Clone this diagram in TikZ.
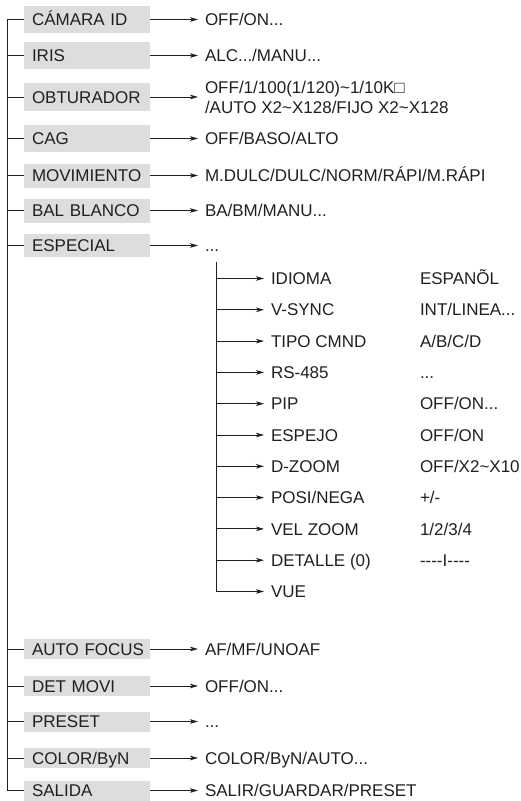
\documentclass[tikz,border=0pt]{standalone}
\usepackage{fontspec}
\setmainfont{Liberation Sans}
\usetikzlibrary{arrows.meta}
\definecolor{boxgray}{RGB}{221,221,221}
\definecolor{ink}{RGB}{35,31,32}
\newcommand\tld{\textasciitilde}
\newcommand\hyk{-\kern0pt}
\begin{document}
\begin{tikzpicture}[x=1pt,y=-1pt,
  every node/.style={font=\fontsize{17}{20}\selectfont, text=ink, outer sep=0pt},
  menubox/.style={fill=boxgray, anchor=west, text width=110pt, inner xsep=8pt, inner ysep=0pt, align=left, text height=12.2pt, text depth=0pt},
  val/.style={anchor=west, inner xsep=7pt, inner ysep=0pt, text height=12.2pt, text depth=0pt},
  branch/.style={line width=0.9pt, draw=ink},
  spine/.style={line width=1.3pt, draw=ink, line cap=rect},
  subspine/.style={line width=1pt, draw=ink, line cap=rect},
  arr/.style={line width=0.9pt, draw=ink, -{Stealth[length=8pt,width=4.6pt,inset=2.2pt]}}
]
\useasboundingbox (0,0) rectangle (521,801);

% main menu boxes
\node[menubox, minimum height=27pt] (cam) at (24,19.5) {\mbox{CÁMARA ID}};
\node[menubox, minimum height=27pt] (iris) at (24,55.5) {\mbox{IRIS}};
\node[menubox, minimum height=28pt] (obt) at (24,97) {\mbox{OBTURADOR}};
\node[menubox, minimum height=27pt] (cag) at (24,138.5) {\mbox{CAG}};
\node[menubox, minimum height=24pt] (mov) at (24,175.5) {\mbox{MOVIMIENTO}};
\node[menubox, minimum height=24pt] (bal) at (24,210.5) {\mbox{BAL BLANCO}};
\node[menubox, minimum height=23pt] (esp) at (24,245.5) {\mbox{ESPECIAL}};
\node[menubox, minimum height=20pt] (af) at (24,649) {\mbox{AUTO FOCUS}};
\node[menubox, minimum height=20pt] (det) at (24,686) {\mbox{DET MOVI}};
\node[menubox, minimum height=20pt] (pre) at (24,721.5) {\mbox{PRESET}};
\node[menubox, minimum height=20pt] (col) at (24,758) {\mbox{COLOR/ByN}};
\node[menubox, minimum height=20pt] (sal) at (24,790.5) {\mbox{SALIDA}};

% values
\node[val] (camv) at (198,19.5) {OFF/ON...};
\node[val] (irisv) at (198,55.5) {ALC.../MANU...};
\node[anchor=west, inner xsep=7pt, inner ysep=0pt, align=left] (obtv) at (198,97) {OFF/1/100(1/120)\tld1/10K□\\/AUTO X2\tld X128/FIJO X2\tld X128};
\node[val] (cagv) at (198,138.5) {OFF/BASO/ALTO};
\node[val] (movv) at (198,175.5) {M.DULC/DULC/NORM/RÁPI/M.RÁPI};
\node[val] (balv) at (198,210.5) {BA/BM/MANU...};
\node[val] (espv) at (198,245.5) {...};
\node[val] (afv) at (198,649) {AF/MF/UNOAF};
\node[val] (detv) at (198,686) {OFF/ON...};
\node[val] (prev) at (198,721.5) {...};
\node[val] (colv) at (198,758) {COLOR/ByN/AUTO...};
\node[val] (salv) at (198,790.5) {SALIR/GUARDAR/PRESET};

\foreach \n in {cam,iris,obt,cag,mov,bal,esp,af,det,pre,col,sal}
  \draw[arr] (\n.east) -- (\n v.west);

% main spine
\coordinate (sp) at (7.5,0);
\draw[spine] (cam.west -| sp) -- (sal.west -| sp);
\foreach \n in {cam,iris,obt,cag,mov,bal,esp,af,det,pre,col,sal}
  \draw[branch] (\n.west -| sp) -- (\n.west);

% sub menu of ESPECIAL
\coordinate (ss) at (216.5,262);
\node[val] (s1) at (264,278.5) {IDIOMA};
\node[val] (s2) at (264,309.8) {V-SYNC};
\node[val] (s3) at (264,341.1) {TIPO CMND};
\node[val] (s4) at (264,372.4) {RS-485};
\node[val] (s5) at (264,403.7) {PIP};
\node[val] (s6) at (264,435) {ESPEJO};
\node[val] (s7) at (264,466.3) {D-ZOOM};
\node[val] (s8) at (264,497.6) {POSI/NEGA};
\node[val] (s9) at (264,528.9) {VEL ZOOM};
\node[val] (s10) at (264,560.2) {DETALLE (0)};
\node[val] (s11) at (264,591.5) {VUE};

\node[val] (s1v) at (413,278.5) {ESPANÕL};
\node[val] (s2v) at (413,309.8) {INT/LINEA...};
\node[val] (s3v) at (413,341.1) {A/B/C/D};
\node[val] (s4v) at (413,372.4) {...};
\node[val] (s5v) at (413,403.7) {OFF/ON...};
\node[val] (s6v) at (413,435) {OFF/ON};
\node[val] (s7v) at (413,466.3) {OFF/X2\tld X10};
\node[val] (s8v) at (413,497.6) {+/\hyk};
\node[val] (s9v) at (413,528.9) {1/2/3/4};
\node[val] (s10v) at (413,560.2) {\hyk\hyk\hyk\hyk I\hyk\hyk\hyk\hyk};

\draw[subspine] (ss) -- (s11.west -| ss);
\foreach \n in {s1,s2,s3,s4,s5,s6,s7,s8,s9,s10,s11}
  \draw[arr] (\n.west -| ss) -- (\n.west);
\end{tikzpicture}
\end{document}
